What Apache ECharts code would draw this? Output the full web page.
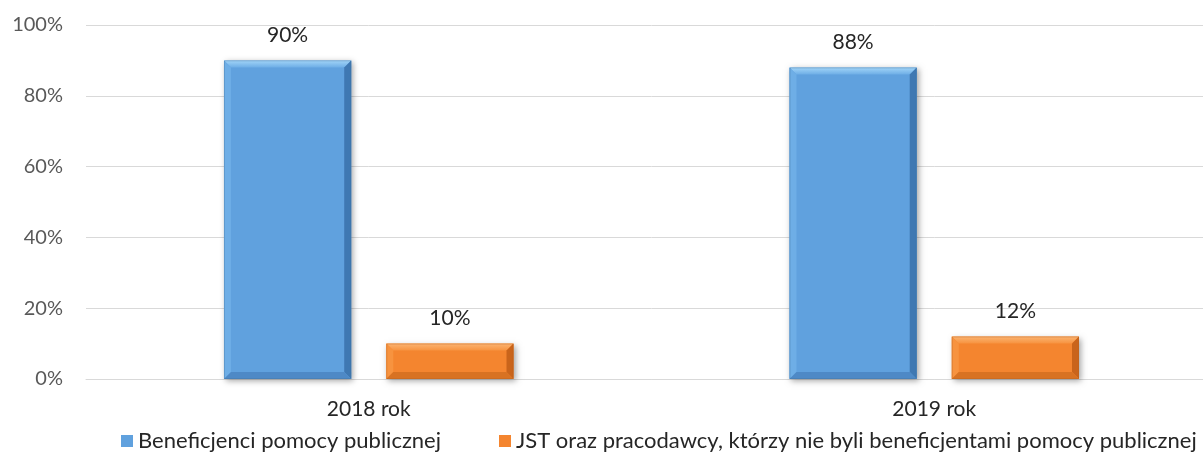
<!DOCTYPE html>
<html>
<head>
<meta charset="utf-8">
<title>Beneficjenci pomocy publicznej</title>
<script src="https://cdn.jsdelivr.net/npm/echarts@6/dist/echarts.min.js"></script>
<style>
  html, body { margin: 0; padding: 0; background: #ffffff; overflow: hidden; }
  /* the plot runs a little past the right edge of the page, as the gridlines do */
  #chart { width: 1217px; height: 459px; }
</style>
</head>
<body>
<div id="chart"></div>
<script>
// Chart data
const categories = ['2018 rok', '2019 rok'];
const seriesNames = [
  'Beneficjenci pomocy publicznej',
  'JST oraz pracodawcy, którzy nie byli beneficjentami pomocy publicznej'
];
const beneficjenci = [90, 88];
const jstPracodawcy = [10, 12];
const yTickValues = [0, 20, 40, 60, 80, 100];

// Bar geometry as fractions of one category band
const BAR_WIDTH = 0.225;
const BAR_OFFSETS = [-0.1435, 0.1435];
const BEVEL = 7;
const FONT = 'Lato, "Open Sans", sans-serif';

// Shading for the bevelled faces: face, top, left, right, bottom, edge
const PALETTES = [
  { face: '#60a1de', top: '#a3d5f8', left: '#6eaee6', right: '#3f78b2', bottom: '#4e89c6', edge: '#41729f' },
  { face: '#f4852f', top: '#fbb472', left: '#f7933f', right: '#c9641b', bottom: '#d87222', edge: '#b9621f' }
];

function renderBevelBar(params, api) {
  const cat = api.value(0);
  const val = api.value(1);
  const base = api.coord([cat, 0]);
  const tip = api.coord([cat, val]);
  const band = api.size([1, 0])[0];
  const w = band * BAR_WIDTH;
  const cx = base[0] + band * BAR_OFFSETS[params.seriesIndex];
  const x0 = cx - w / 2, x1 = cx + w / 2;
  const y0 = tip[1], y1 = base[1];
  const b = Math.min(BEVEL, (y1 - y0) / 2);
  const p = PALETTES[params.seriesIndex];
  return {
    type: 'group',
    children: [
      {
        type: 'rect',
        shape: { x: x0, y: y0, width: w, height: y1 - y0 },
        style: { fill: p.face, shadowBlur: 6, shadowOffsetX: 2, shadowOffsetY: 2, shadowColor: 'rgba(0,0,0,0.35)' }
      },
      {
        type: 'polygon',
        shape: { points: [[x0, y0], [x1, y0], [x1 - b, y0 + b], [x0 + b, y0 + b]] },
        style: {
          fill: new echarts.graphic.LinearGradient(0, 0, 0, 1, [
            { offset: 0, color: p.top }, { offset: 1, color: p.left }
          ])
        }
      },
      {
        type: 'polygon',
        shape: { points: [[x0, y0], [x0 + b, y0 + b], [x0 + b, y1 - b], [x0, y1]] },
        style: { fill: p.left }
      },
      {
        type: 'polygon',
        shape: { points: [[x1, y0], [x1, y1], [x1 - b, y1 - b], [x1 - b, y0 + b]] },
        style: { fill: p.right }
      },
      {
        type: 'polygon',
        shape: { points: [[x0, y1], [x0 + b, y1 - b], [x1 - b, y1 - b], [x1, y1]] },
        style: { fill: p.bottom }
      },
      {
        type: 'rect',
        shape: { x: x0 + 0.5, y: y0 + 0.5, width: w - 1, height: y1 - y0 - 1 },
        style: { fill: null, stroke: p.edge, lineWidth: 0.6, opacity: 0.6 }
      },
      {
        type: 'text',
        style: {
          text: val + '%',
          x: cx,
          y: y0 - 25,
          align: 'center',
          verticalAlign: 'middle',
          font: '21px ' + FONT,
          fill: '#262626'
        }
      }
    ]
  };
}

function toPairs(values) {
  return values.map((v, i) => [i, v]);
}

const chart = echarts.init(document.getElementById('chart'), null, { renderer: 'canvas' });

const legendCommon = {
  orient: 'horizontal',
  top: 430,
  itemWidth: 12,
  itemHeight: 12,
  itemGap: 0,
  icon: 'rect',
  textStyle: { fontFamily: FONT, fontSize: 22, color: '#262626' },
  padding: 0
};

chart.setOption({
  animation: false,
  backgroundColor: '#ffffff',
  grid: { left: 86, right: 0, top: 25, bottom: 80, containLabel: false },
  legend: [
    Object.assign({}, legendCommon, { left: 121, data: [seriesNames[0]] }),
    Object.assign({}, legendCommon, { left: 499, data: [seriesNames[1]] })
  ],
  xAxis: {
    type: 'category',
    data: categories,
    axisLine: { show: true, lineStyle: { color: '#d9d9d9', width: 1 } },
    axisTick: { show: false },
    axisLabel: { margin: 20, fontFamily: FONT, fontSize: 21, color: '#262626' }
  },
  yAxis: {
    type: 'value',
    min: yTickValues[0],
    max: yTickValues[yTickValues.length - 1],
    interval: yTickValues[1] - yTickValues[0],
    axisLine: { show: false },
    axisTick: { show: false },
    splitLine: { lineStyle: { color: '#d9d9d9', width: 1 } },
    axisLabel: { margin: 23, formatter: '{value}%', fontFamily: FONT, fontSize: 20, color: '#595959' }
  },
  series: [
    {
      name: seriesNames[0],
      type: 'custom',
      renderItem: renderBevelBar,
      itemStyle: { color: PALETTES[0].face },
      encode: { x: 0, y: 1 },
      data: toPairs(beneficjenci),
      z: 3
    },
    {
      name: seriesNames[1],
      type: 'custom',
      renderItem: renderBevelBar,
      itemStyle: { color: PALETTES[1].face },
      encode: { x: 0, y: 1 },
      data: toPairs(jstPracodawcy),
      z: 3
    }
  ]
});
</script>
</body>
</html>
